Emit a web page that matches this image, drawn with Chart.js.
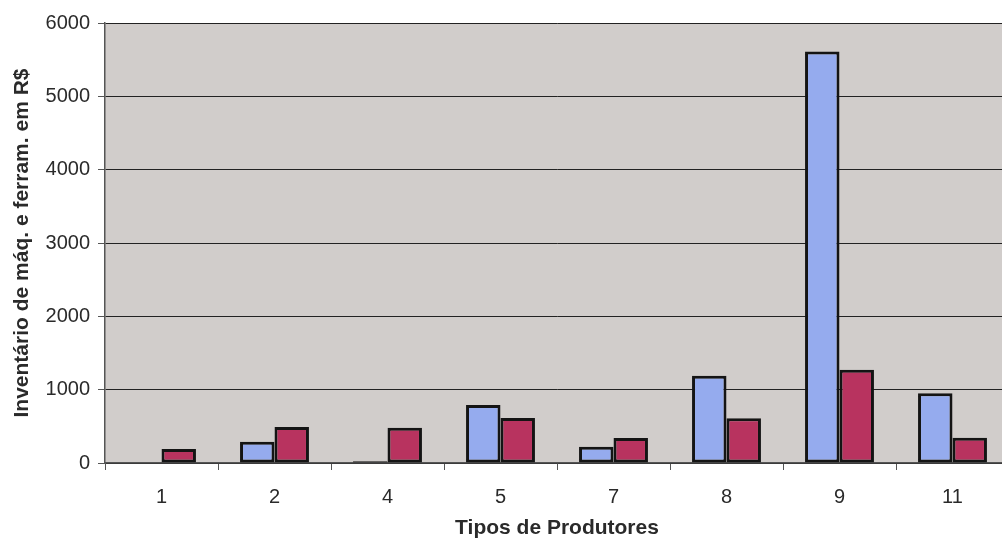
<!DOCTYPE html>
<html>
<head>
<meta charset="utf-8">
<script src="https://cdn.jsdelivr.net/npm/chart.js@4"></script>
<style>
  html, body { margin: 0; padding: 0; background: #fff; overflow: hidden; }
  #wrap { width: 1010px; height: 541px; }
</style>
</head>
<body>
<div id="wrap"><canvas id="c" width="1010" height="541"></canvas></div>
<script>
const categories = ['1', '2', '4', '5', '7', '8', '9', '11']
const serieA = [0, 290, 25, 790, 220, 1190, 5610, 950]
const serieB = [190, 490, 480, 615, 340, 610, 1270, 345]
const yTicks = [0, 1000, 2000, 3000, 4000, 5000, 6000]

const plotBg = {
  id: 'plotBg',
  beforeDraw(chart) {
    const { ctx, chartArea: a } = chart
    ctx.save()
    ctx.fillStyle = '#d1cdcb'
    ctx.fillRect(a.left, a.top, a.right - a.left, a.bottom - a.top)
    ctx.restore()
  }
}

const font = { family: 'Liberation Sans, Arial, sans-serif', size: 20 }
const titleFont = { family: 'Liberation Sans, Arial, sans-serif', size: 21, weight: 'bold' }

new Chart(document.getElementById('c'), {
  type: 'bar',
  data: {
    labels: categories,
    datasets: [
      { data: serieA, backgroundColor: '#95abee', borderColor: '#141414', borderWidth: 3, borderSkipped: false },
      { data: serieB, backgroundColor: '#b8335f', borderColor: '#141414', borderWidth: 3, borderSkipped: false },
    ],
  },
  options: {
    animation: false,
    responsive: false,
    layout: { padding: { top: 23, right: 1, left: 0, bottom: 0 } },
    plugins: { legend: { display: false }, tooltip: { enabled: false } },
    datasets: { bar: { categoryPercentage: 0.61, barPercentage: 1.0 } },
    scales: {
      x: {
        grid: { offset: true, drawOnChartArea: false, color: '#555', tickLength: 7 },
        border: { color: '#555', width: 1.5 },
        ticks: { color: '#2a2a2a', font, padding: 15 },
        title: { display: true, text: 'Tipos de Produtores', color: '#2a2a2a', font: titleFont, padding: { top: 0, bottom: 0 } },
        afterFit(s) { s.height = 78 },
      },
      y: {
        min: 0, max: 6000,
        afterBuildTicks(s) { s.ticks = yTicks.map(v => ({ value: v })) },
        grid: { color: '#222', lineWidth: 1, tickLength: 7, tickColor: '#555' },
        border: { color: '#555', width: 1.5 },
        ticks: { color: '#2a2a2a', font, padding: 8, callback: v => String(v) },
        title: { display: true, text: 'Inventário de máq. e ferram. em R$', color: '#2a2a2a', font: titleFont, padding: { top: 10, bottom: 4 } },
        afterFit(s) { s.width = 105 },
      },
    },
  },
  plugins: [plotBg],
})
</script>
</body>
</html>
